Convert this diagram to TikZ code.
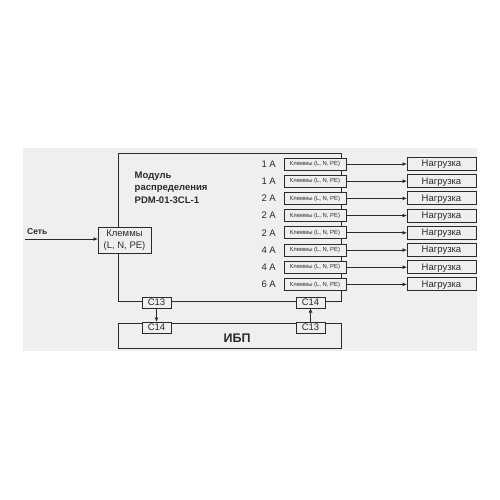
\documentclass[tikz,border=0pt]{standalone}
\usepackage{fontspec}
\setmainfont{Liberation Sans}
\usetikzlibrary{arrows.meta}
\definecolor{bggray}{HTML}{EFEFEF}
\definecolor{ln}{HTML}{2A2A2A}
\tikzset{
  box/.style={draw=ln, line width=1pt, fill=bggray, inner sep=0pt, outer sep=0pt, text=ln},
  smallbox/.style={box, minimum width=62pt, minimum height=12pt, text height=4.3pt, text depth=1pt, font=\fontsize{5.9}{7}\selectfont},
  loadbox/.style={box, minimum width=69pt, minimum height=13pt, text height=6.9pt, text depth=1pt, font=\fontsize{9.5}{11}\selectfont},
  cbox/.style={box, minimum width=29pt, minimum height=11pt, text height=6.9pt, text depth=0.5pt, font=\fontsize{9.5}{11}\selectfont},
  amp/.style={anchor=east, text=ln, inner sep=0pt, font=\fontsize{9.5}{11}\selectfont},
  arr/.style={draw=ln, line width=1pt, -{Latex[length=4.5pt,width=4pt]}},
  ln/.style={draw=ln, line width=1pt}
}
\begin{document}
\begin{tikzpicture}[x=1pt,y=-1pt]
\useasboundingbox (0,0) rectangle (500,500);
\fill[white] (0,0) rectangle (500,500);
\fill[bggray] (23,148) rectangle (477,351);
% module
\draw[ln] (118,153) rectangle (341,301);
\node[anchor=west, align=left, text=ln, inner sep=0pt, font=\bfseries\fontsize{9.5}{12.5}\selectfont] (mtitle) at (134.5,187.5) {Модуль\\распределения\\PDM-01-3CL-1};
% input
\node[box, minimum width=53pt, minimum height=26pt, align=center, font=\fontsize{9.5}{12}\selectfont] (in) at (124.5,240) {Клеммы\\(L, N, PE)};
\coordinate (src) at (25,239);
\draw[arr] (src) -- (in.west |- src);
\node[anchor=west, text=ln, inner sep=0pt, font=\bfseries\fontsize{8.5}{10}\selectfont] (set) at (27,231.5) {Сеть};
% rows
\foreach \i/\a in {0/1 A,1/1 A,2/2 A,3/2 A,4/2 A,5/4 A,6/4 A,7/6 A} {
  \pgfmathsetmacro{\yy}{164+17.2*\i}
  \node[amp] (a\i) at (276,\yy) {\a};
  \node[smallbox] (k\i) at (315,\yy) {Клеммы (L, N, PE)};
  \node[loadbox] (l\i) at (441.5,\yy) {Нагрузка};
  \draw[arr] (k\i) -- (l\i);
}
% bottom connectors
\node[cbox] (c13t) at (156.5,302.5) {C13};
\node[cbox] (c14t) at (310.5,302.5) {C14};
\draw[ln] (118,323) rectangle (341,348);
\node[text=ln, inner sep=0pt, font=\bfseries\fontsize{12.5}{14}\selectfont] (ups) at (237,338.5) {ИБП};
\node[cbox] (c14b) at (156.5,327.5) {C14};
\node[cbox] (c13b) at (310.5,327.5) {C13};
\draw[arr] (c13t) -- (c14b);
\draw[arr] (c13b) -- (c14t);
\end{tikzpicture}
\end{document}
